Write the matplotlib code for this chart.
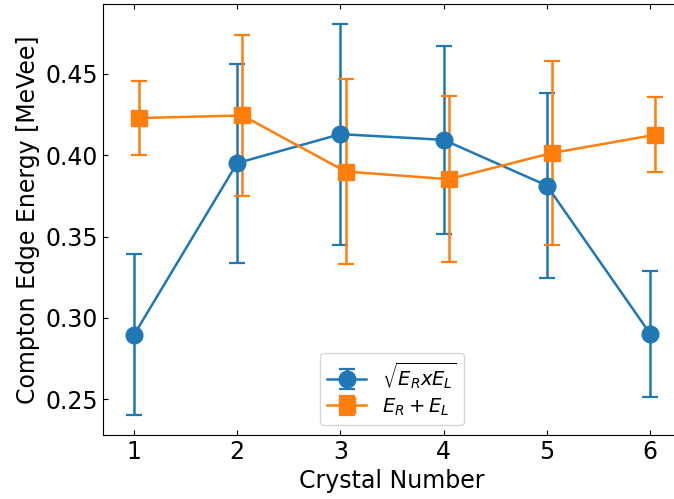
import numpy as np
import matplotlib.pyplot as plt

crystal = np.array([1, 2, 3, 4, 5, 6])

# sqrt(E_R x E_L)
geo_mean = [0.2895, 0.3952, 0.4130, 0.4095, 0.3814, 0.2903]
geo_err = [0.0495, 0.0612, 0.0680, 0.0578, 0.0570, 0.0387]

# E_R + E_L
summed = [0.4229, 0.4245, 0.3900, 0.3853, 0.4014, 0.4126]
summed_err = [0.0225, 0.0495, 0.0570, 0.0510, 0.0564, 0.0231]

x_shift = 0.05

fig = plt.figure(figsize=(6.74, 4.99), dpi=100)
ax = fig.add_axes([103/674, 64/499, 578/674, 431/499])

ax.errorbar(crystal, geo_mean, yerr=geo_err, marker="o", markersize=12,
            capsize=6, linewidth=1.8, elinewidth=1.8, capthick=1.6,
            label=r"$\sqrt{E_R x E_L}$")
ax.errorbar(crystal + x_shift, summed, yerr=summed_err, marker="s", markersize=12,
            capsize=6, linewidth=1.8, elinewidth=1.8, capthick=1.6,
            label=r"$E_R + E_L$")

ax.set_xlim(0.7, 6.3)
ax.set_yticks([0.25, 0.30, 0.35, 0.40, 0.45])
ax.tick_params(direction="in", top=True, right=True, labelsize=17)
ax.set_xlabel("Crystal Number", fontsize=17)
ax.set_ylabel("Compton Edge Energy [MeVee]", fontsize=17)
ax.legend(loc="lower center", fontsize=14, labelspacing=0.25)

fig.savefig("out.png", dpi=100)
plt.close()
